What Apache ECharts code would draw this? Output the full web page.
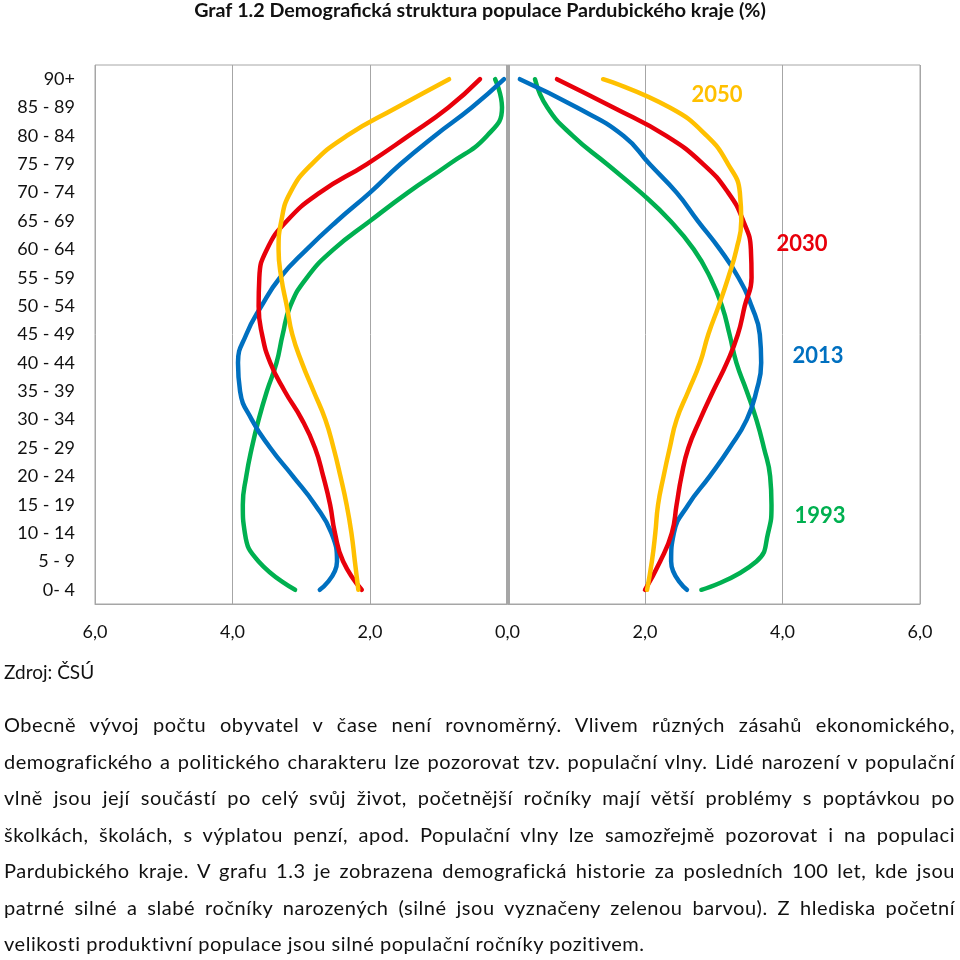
<!DOCTYPE html>
<html>
<head>
<meta charset="UTF-8">
<title>Graf 1.2</title>
<script src="https://cdn.jsdelivr.net/npm/echarts@6/dist/echarts.min.js"></script>
<style>
  html, body { margin: 0; padding: 0; background: #fff; }
  #page { position: relative; width: 960px; height: 960px; overflow: hidden; font-family: Lato, sans-serif; color: #111; }
  #chart { position: absolute; left: 0; top: 0; width: 960px; height: 960px; }
  #source { position: absolute; left: 4px; top: 658px; font-size: 19px; line-height: 28px; }
  #text { position: absolute; left: 4px; top: 706px; width: 951px; font-size: 20px; letter-spacing: 0.55px; }
  #text div { height: 36.5px; line-height: 36.5px; white-space: nowrap; text-align: justify; text-align-last: justify; }
  #text div.last { text-align: left; text-align-last: left; }
</style>
</head>
<body>
<div id="page">
  <div id="chart"></div>
  <div id="source"></div>
  <div id="text"></div>
</div>
<script>
// age groups, bottom to top
const ages = ['0- 4', '5 - 9', '10 - 14', '15 - 19', '20 - 24', '25 - 29', '30 - 34', '35 - 39', '40 - 44',
  '45 - 49', '50 - 54', '55 - 59', '60 - 64', '65 - 69', '70 - 74', '75 - 79', '80 - 84', '85 - 89', '90+'];

// share of population in %, left half and right half of the pyramid
const left1993 = [3.09, 3.62, 3.82, 3.85, 3.80, 3.72, 3.62, 3.50, 3.36, 3.27, 3.16, 2.92, 2.53, 2.00, 1.45, 0.85, 0.30, 0.08, 0.18];
const right1993 = [2.82, 3.62, 3.79, 3.84, 3.82, 3.73, 3.62, 3.48, 3.33, 3.23, 3.12, 2.95, 2.71, 2.37, 1.94, 1.45, 0.95, 0.58, 0.40];
const left2013 = [2.73, 2.48, 2.56, 2.80, 3.12, 3.45, 3.72, 3.89, 3.92, 3.80, 3.58, 3.31, 2.92, 2.48, 2.00, 1.56, 1.06, 0.52, 0.05];
const right2013 = [2.61, 2.38, 2.42, 2.63, 2.94, 3.23, 3.48, 3.62, 3.69, 3.67, 3.55, 3.36, 3.09, 2.77, 2.46, 2.07, 1.69, 1.01, 0.18];
const left2030 = [2.12, 2.39, 2.51, 2.58, 2.68, 2.80, 2.99, 3.24, 3.45, 3.57, 3.62, 3.61, 3.50, 3.21, 2.73, 2.05, 1.44, 0.86, 0.40];
const right2030 = [2.00, 2.22, 2.39, 2.46, 2.53, 2.63, 2.80, 2.99, 3.19, 3.35, 3.45, 3.55, 3.54, 3.43, 3.21, 2.85, 2.31, 1.54, 0.72];
const left2050 = [2.17, 2.22, 2.27, 2.34, 2.43, 2.53, 2.65, 2.82, 2.99, 3.13, 3.21, 3.29, 3.33, 3.29, 3.16, 2.85, 2.34, 1.61, 0.85];
const right2050 = [2.03, 2.10, 2.15, 2.19, 2.27, 2.36, 2.46, 2.63, 2.80, 2.92, 3.07, 3.21, 3.33, 3.40, 3.38, 3.21, 2.90, 2.36, 1.39];

const years = ['1993', '2013', '2030', '2050'];
const colors = ['#00B050', '#0070C0', '#E8000B', '#FFC000'];
const leftData = [left1993, left2013, left2030, left2050];
const rightData = [right1993, right2013, right2030, right2050];

const sourceText = 'Zdroj: ČSÚ';
const paragraph = [
  'Obecně vývoj počtu obyvatel v čase není rovnoměrný. Vlivem různých zásahů ekonomického,',
  'demografického a politického charakteru lze pozorovat tzv. populační vlny. Lidé narození v populační',
  'vlně jsou její součástí po celý svůj život, početnější ročníky mají větší problémy s poptávkou po',
  'školkách, školách, s výplatou penzí, apod. Populační vlny lze samozřejmě pozorovat i na populaci',
  'Pardubického kraje. V grafu 1.3 je zobrazena demografická historie za posledních 100 let, kde jsou',
  'patrné silné a slabé ročníky narozených (silné jsou vyznačeny zelenou barvou). Z hlediska početní',
  'velikosti produktivní populace jsou silné populační ročníky pozitivem.'
];

document.getElementById('source').textContent = sourceText;
const textBox = document.getElementById('text');
paragraph.forEach((line, i) => {
  const d = document.createElement('div');
  d.textContent = line;
  if (i === paragraph.length - 1) d.className = 'last';
  textBox.appendChild(d);
});

const chart = echarts.init(document.getElementById('chart'));

const series = [];
years.forEach((year, k) => {
  const style = { color: colors[k], width: 4.5, cap: 'round' };
  series.push({
    name: year, type: 'line', smooth: 0.5, symbol: 'none',
    lineStyle: style, itemStyle: { color: colors[k] },
    data: leftData[k].map((v, i) => [-v, ages[i]])
  });
  series.push({
    name: year, type: 'line', smooth: 0.5, symbol: 'none',
    lineStyle: style, itemStyle: { color: colors[k] },
    data: rightData[k].map((v, i) => [v, ages[i]])
  });
});

// thick centre line at 0
series[0].markLine = {
  silent: true, symbol: 'none', label: { show: false },
  lineStyle: { color: '#a6a6a6', width: 4, type: 'solid' },
  data: [{ xAxis: 0 }]
};

// year labels next to the curves
const labelPos = [[820, 516], [818, 356], [802, 244], [717, 95]];
const graphic = years.map((year, k) => ({
  type: 'text', x: labelPos[k][0], y: labelPos[k][1], z: 100,
  style: {
    text: year, fill: colors[k], font: 'bold 22px Lato',
    textAlign: 'center', textVerticalAlign: 'middle'
  }
}));

chart.setOption({
  animation: false,
  textStyle: { fontFamily: 'Lato' },
  title: {
    text: 'Graf 1.2 Demografická struktura populace Pardubického kraje (%)',
    left: 'center', top: 1, padding: 0,
    textStyle: { fontSize: 19.7, fontWeight: 'bold', color: '#111', fontFamily: 'Lato' }
  },
  grid: {
    left: 95, right: 40, top: 65, bottom: 356,
    show: true, borderColor: '#a6a6a6', borderWidth: 1
  },
  xAxis: {
    type: 'value', min: -6, max: 6, interval: 2,
    axisLine: { show: true, lineStyle: { color: '#a6a6a6' } },
    axisTick: { show: false },
    splitLine: { show: true, lineStyle: { color: '#a6a6a6', width: 1 } },
    axisLabel: {
      margin: 19, fontSize: 18, color: '#111',
      formatter: v => Math.abs(v).toFixed(1).replace('.', ',')
    }
  },
  yAxis: {
    type: 'category', data: ages, boundaryGap: true,
    axisLine: { show: false }, axisTick: { show: false },
    splitLine: { show: false },
    axisLabel: { margin: 20, fontSize: 18, color: '#111' }
  },
  graphic: graphic,
  series: series
});
</script>
</body>
</html>
